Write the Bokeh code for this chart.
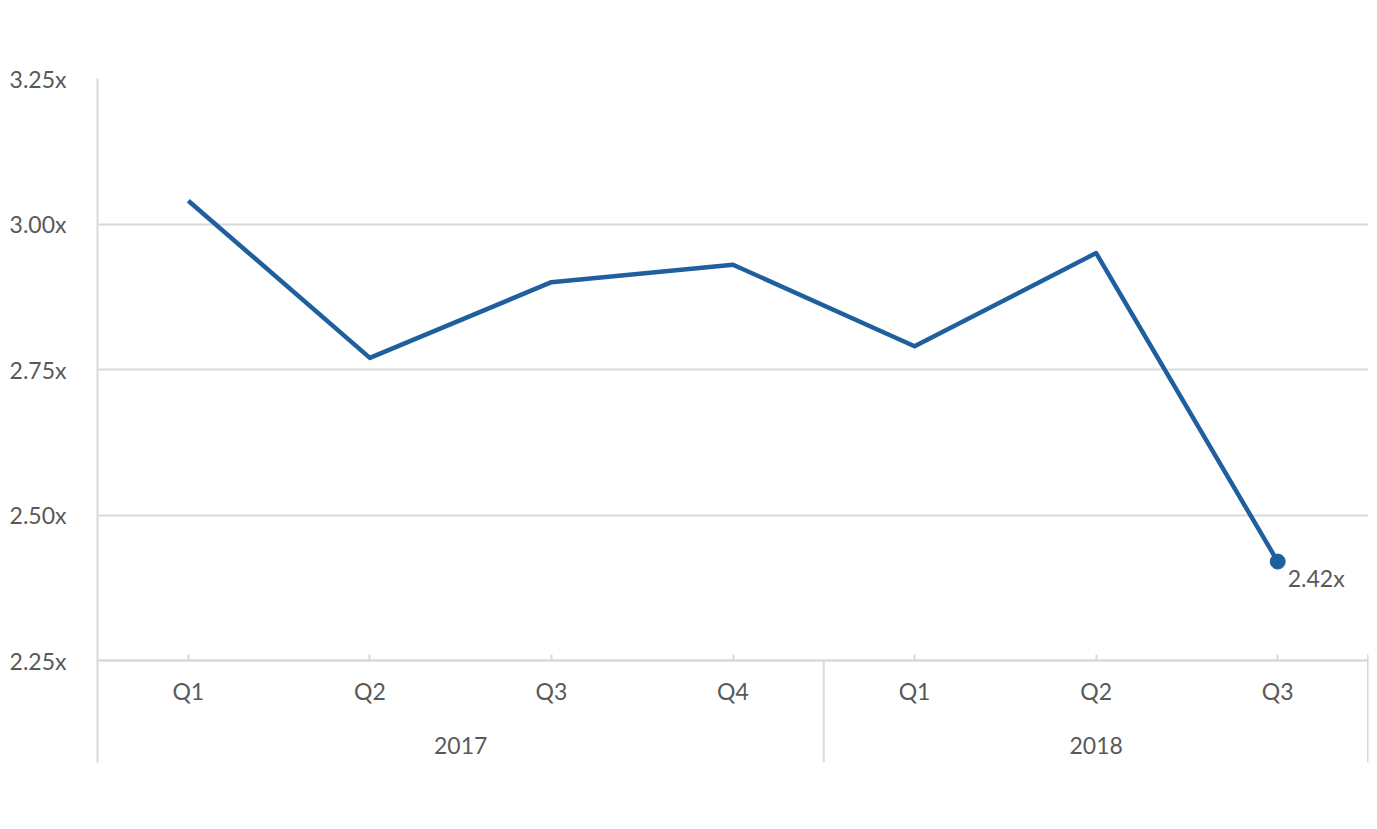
from bokeh.plotting import figure
from bokeh.models import FactorRange, Range1d, FixedTicker, PrintfTickFormatter
from bokeh.core.properties import value
from bokeh.embed import file_html
from bokeh.resources import INLINE

# ---- data ----
years = ["2017", "2017", "2017", "2017", "2018", "2018", "2018"]
quarters = ["Q1", "Q2", "Q3", "Q4", "Q1", "Q2", "Q3"]
ratios = [3.04, 2.77, 2.90, 2.93, 2.79, 2.95, 2.42]
y_ticks = [2.25, 2.50, 2.75, 3.00, 3.25]
year_groups = ["2017", "2018"]
last_label = ["2.42x"]

# ---- style ----
FONT = "Lato"
FS = "23px"
TXT = "#595959"
GRID = "#d9d9d9"
BLUE = "#1f5f9e"

factors = list(zip(years, quarters))
px_per_unit = 582.0
y_bottom = y_ticks[0] - 102.0 / px_per_unit
tick_len = 6.0 / px_per_unit

p = figure(
    width=1369, height=821,
    x_range=FactorRange(*factors, factor_padding=0, group_padding=0, range_padding=0),
    y_range=Range1d(y_bottom, y_ticks[-1]),
    output_backend="svg", toolbar_location=None,
    min_border_left=97, min_border_right=1, min_border_top=78, min_border_bottom=59,
)
p.outline_line_color = None
p.background_fill_color = "white"
p.border_fill_color = "white"

# y axis
p.yaxis.ticker = FixedTicker(ticks=y_ticks)
p.yaxis.formatter = PrintfTickFormatter(format="%.2fx")
p.yaxis.axis_line_color = GRID
p.yaxis.axis_line_width = 2
p.yaxis.major_tick_line_color = None
p.yaxis.minor_tick_line_color = None
p.yaxis.major_tick_out = 0
p.yaxis.major_tick_in = 0
p.yaxis.major_label_standoff = 31
p.yaxis.major_label_text_font = FONT
p.yaxis.major_label_text_font_size = FS
p.yaxis.major_label_text_color = TXT

p.ygrid.ticker = FixedTicker(ticks=y_ticks)
p.ygrid.grid_line_color = GRID
p.ygrid.grid_line_width = 2
p.xgrid.grid_line_color = None

# x axis (categorical) placed at the 2.25 line inside the frame
xa = p.xaxis[0]
xa.fixed_location = y_ticks[0]
xa.axis_line_color = GRID
xa.axis_line_width = 2
xa.major_tick_line_color = GRID
xa.major_tick_line_width = 2
xa.major_tick_in = 6
xa.major_tick_out = 0
xa.minor_tick_line_color = None
xa.major_label_standoff = 16
xa.major_label_text_font = FONT
xa.major_label_text_font_size = FS
xa.major_label_text_color = TXT
xa.group_text_color = None
xa.separator_line_color = None

# year group labels, centred on each group
p.text(x=year_groups, y=[y_ticks[0]] * len(year_groups), text=year_groups,
       y_offset=85, text_align="center", text_baseline="middle",
       text_font=value(FONT), text_font_size=FS, text_color=TXT)

# group separators (left edge is the y axis line)
n_first = years.count(years[0])
n_all = len(factors)
p.segment(x0=[n_first], x1=[n_first], y0=[y_ticks[0]], y1=[y_bottom],
          line_color=GRID, line_width=2)
p.segment(x0=[n_all], x1=[n_all], y0=[y_ticks[0] + tick_len], y1=[y_bottom],
          line_color=GRID, line_width=3)

# series
p.line(x=factors, y=ratios, line_color=BLUE, line_width=4.5, line_join="round")
p.scatter(x=[factors[-1]], y=[ratios[-1]], size=15, fill_color=BLUE, line_color=BLUE)
p.text(x=[factors[-1]], y=[ratios[-1]], text=last_label, x_offset=10, y_offset=16,
       text_baseline="middle", text_align="left", text_font=value(FONT),
       text_font_size=FS, text_color=TXT)

open("out.html", "w").write(file_html(p, INLINE))
